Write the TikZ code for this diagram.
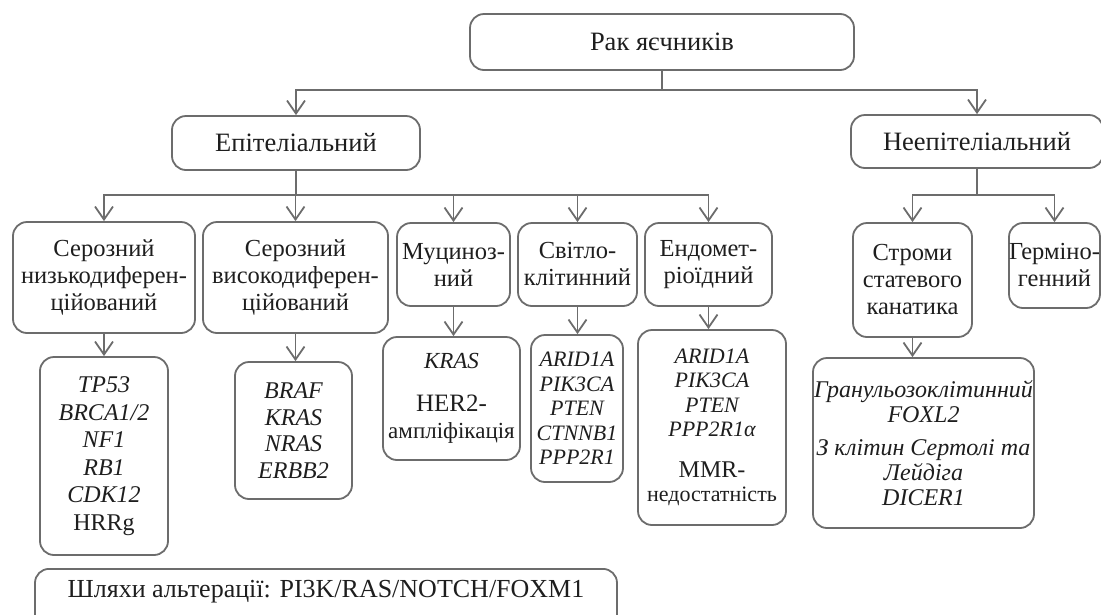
\documentclass[tikz,border=0pt]{standalone}
\usepackage{fontspec}
\setmainfont{Liberation Serif}
\usetikzlibrary{arrows.meta}
\definecolor{lnc}{RGB}{108,108,108}
\definecolor{txc}{RGB}{30,30,30}
\begin{document}
\begin{tikzpicture}[x=1pt,y=-1pt,
  box/.style={draw=lnc, line width=1.8pt, rounded corners=14pt, text=txc, align=center, inner sep=0pt,
              font=\fontsize{24.5}{27}\selectfont},
  bigbox/.style={box, font=\fontsize{26.5}{29}\selectfont},
  txt/.style={text=txc, align=center, inner sep=0pt, font=\fontsize{26}{29}\selectfont},
  arr/.style={draw=lnc, line width=1.8pt, -{Straight Barb[length=13pt,width=18pt]}},
  conn/.style={draw=lnc, line width=1.8pt}]
\useasboundingbox (0,0) rectangle (1101,614);

% level 0 / 1
\node[bigbox, minimum width=384, minimum height=56] (top) at (662,42) {Рак яєчників};
\node[bigbox, minimum width=248, minimum height=54] (epi) at (296,143) {Епітеліальний};
\node[bigbox, minimum width=252, minimum height=53] (nonepi) at (977,141.5) {Неепітеліальний};

% level 2
\node[box, minimum width=182, minimum height=111] (ser1) at (104,277.5) {Серозний\\низькодиферен-\\ційований};
\node[box, minimum width=185, minimum height=111] (ser2) at (295.5,277.5) {Серозний\\високодиферен-\\ційований};
\node[box, minimum width=113, minimum height=83] (muc) at (453.5,264.5) {Муциноз-\\ний};
\node[box, minimum width=119, minimum height=83] (clear) at (577.5,264.5) {Світло-\\клітинний};
\node[box, minimum width=127, minimum height=83] (endo) at (708.5,264.5) {Ендомет-\\ріоїдний};
\node[box, minimum width=119, minimum height=114] (strom) at (912.5,280) {Строми\\статевого\\канатика};
\node[box, minimum width=91, minimum height=85] (germ) at (1054.5,265.5) {Герміно-\\генний};

% level 3
\node[box, minimum width=128, minimum height=198, font=\fontsize{24}{27.5}\selectfont] (g1) at (104,456)
  {\itshape TP53\\\itshape BRCA1/2\\\itshape NF1\\\itshape RB1\\\itshape CDK12\\HRRg};
\node[box, minimum width=117, minimum height=137, font=\fontsize{24}{26.5}\selectfont] (g2) at (293.5,430.5)
  {\itshape BRAF\\\itshape KRAS\\\itshape NRAS\\\itshape ERBB2};
\node[box, minimum width=137, minimum height=123, font=\fontsize{23}{27}\selectfont] (g3) at (451.5,398.5)
  {\itshape KRAS\\[16pt]{\fontsize{25}{27}\selectfont HER2-}\\ампліфікація};
\node[box, minimum width=92, minimum height=147, font=\fontsize{22}{24.5}\selectfont] (g4) at (577,408.5)
  {\itshape ARID1A\\\itshape PIK3CA\\\itshape PTEN\\\itshape CTNNB1\\\itshape PPP2R1};
\node[box, minimum width=148, minimum height=195, font=\fontsize{22}{24.5}\selectfont] (g5) at (712,427.5)
  {\itshape ARID1A\\\itshape PIK3CA\\\itshape PTEN\\\itshape PPP2R1α\\[16pt]{\fontsize{24}{26}\selectfont MMR-}\\недостатність};
\node[box, minimum width=221, minimum height=170, font=\fontsize{24}{25}\selectfont] (g6) at (923.5,443)
  {\itshape Гранульозоклітинний\\\itshape FOXL2\\[8pt]\itshape З клітин Сертолі та\\\itshape Лейдіга\\\itshape DICER1};

% bottom box
\node[box, minimum width=582, minimum height=80, anchor=north] (path) at (326,568) {};
\node[txt] (pathtext) at (326,592) {Шляхи альтерації: PI3K/RAS/NOTCH/FOXM1};

% connectors
\draw[conn] (top.south) -- (top.south |- 0,90) coordinate (j0);
\draw[arr] (j0) -| (epi.north);
\draw[arr] (j0) -| (nonepi.north);

\draw[conn] (epi.south) -- (epi.south |- 0,195) coordinate (j1);
\draw[arr] (j1) -| (ser1.north);
\draw[arr] (j1) -- (j1 -| ser2.north) -- (ser2.north);
\draw[arr] (j1) -| (muc.north);
\draw[arr] (j1) -| (clear.north);
\draw[arr] (j1) -| (endo.north);

\draw[conn] (nonepi.south) -- (nonepi.south |- 0,195) coordinate (j2);
\draw[arr] (j2) -| (strom.north);
\draw[arr] (j2) -| (germ.north);

\draw[arr] (ser1.south) -- (ser1.south |- g1.north);
\draw[arr] (ser2.south) -- (ser2.south |- g2.north);
\draw[arr] (muc.south) -- (muc.south |- g3.north);
\draw[arr] (clear.south) -- (clear.south |- g4.north);
\draw[arr] (endo.south) -- (endo.south |- g5.north);
\draw[arr] (strom.south) -- (strom.south |- g6.north);
\end{tikzpicture}
\end{document}
